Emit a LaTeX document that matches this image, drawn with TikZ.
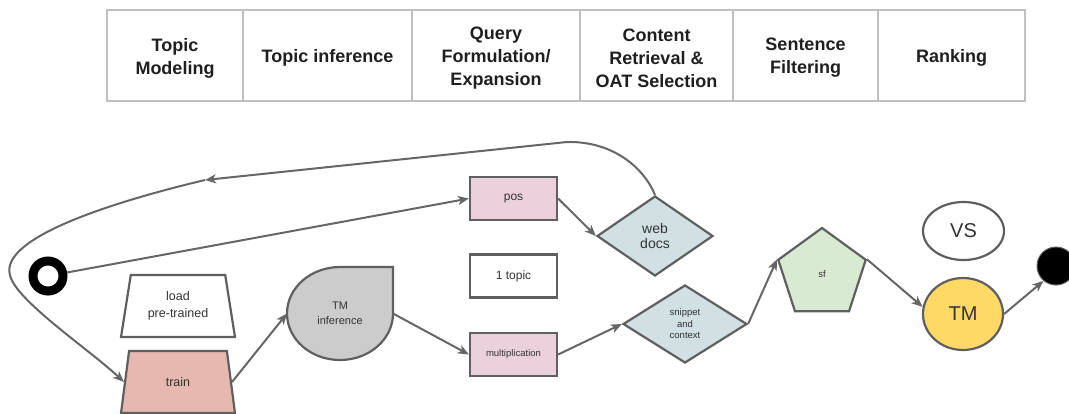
\documentclass[tikz,border=0pt]{standalone}
\usepackage{fontspec}
\setmainfont{Liberation Sans}
\usetikzlibrary{shapes.geometric,arrows.meta,backgrounds}
\definecolor{tablegray}{HTML}{BFBFBF}
\definecolor{linegray}{HTML}{666666}
\definecolor{edgegray}{HTML}{5F5F5F}
\definecolor{textdark}{HTML}{333333}
\definecolor{pinkfill}{HTML}{EAD1DC}
\definecolor{trainfill}{HTML}{E6B8AF}
\definecolor{tmifill}{HTML}{CCCCCC}
\definecolor{bluefill}{HTML}{D0E0E3}
\definecolor{greenfill}{HTML}{D9EAD3}
\definecolor{tmfill}{HTML}{FFD966}
\begin{document}
\begin{tikzpicture}[x=1pt,y=-1pt,
  hdr/.style={draw=tablegray, line width=1.3pt, minimum height=91pt, inner sep=0pt},
  hdrtext/.style={inner sep=0pt, align=center, font=\fontsize{18}{23}\selectfont\bfseries, text=black!88},
  shp/.style={draw=edgegray, line width=2.2pt, inner sep=0pt, align=center, text=textdark},
  box/.style={shp, rectangle, minimum width=87pt, minimum height=43pt, font=\fontsize{12}{14}\selectfont},
  trap/.style={shp, trapezium, trapezium left angle=77.7, trapezium right angle=77.7,
    trapezium stretches=true, minimum width=114pt, minimum height=62pt, font=\fontsize{12.5}{17}\selectfont},
  dia/.style={shp, diamond},
  conn/.style={draw=linegray, line width=2pt, -{Stealth[length=11pt,width=9pt,inset=3pt]}},
]
\useasboundingbox (0,0) rectangle (1069,413);

% header table
\node[hdr, minimum width=136pt] (c1) at (175,55.5) {};
\node[hdr, minimum width=169pt] (c2) at (327.5,55.5) {};
\node[hdr, minimum width=168pt] (c3) at (496,55.5) {};
\node[hdr, minimum width=153pt] (c4) at (656.5,55.5) {};
\node[hdr, minimum width=145pt] (c5) at (805.5,55.5) {};
\node[hdr, minimum width=147pt] (c6) at (951.5,55.5) {};
\node[hdrtext] (t1) at ([yshift=-2.5pt]c1.center) {Topic\\Modeling};
\node[hdrtext] (t2) at ([yshift=-2.5pt]c2.center) {Topic inference};
\node[hdrtext] (t3) at ([yshift=-2.5pt]c3.center) {Query\\Formulation/\\Expansion};
\node[hdrtext] (t4) at ([yshift=-2.5pt]c4.center) {Content\\Retrieval \&\\OAT Selection};
\node[hdrtext] (t5) at ([yshift=-2.5pt]c5.center) {Sentence\\Filtering};
\node[hdrtext] (t6) at ([yshift=-2.5pt]c6.center) {Ranking};

% diagram nodes
\node[circle, draw=black, line width=9pt, minimum size=30pt, inner sep=0pt] (start) at (48,276) {};
\node[box, fill=pinkfill] (pos) at (513.5,198.5) {pos};
\node[box, fill=white] (topic) at (513.5,276) {1 topic};
\node[box, fill=pinkfill, font=\fontsize{9.5}{11}\selectfont] (mult) at (513.5,354.5) {multiplication};
\node[trap, fill=white] (load) at (178,306) {load\\pre-trained};
\node[trap, fill=trainfill] (train) at (178,382) {train};
\node[rectangle, minimum width=106pt, minimum height=93pt, inner sep=0pt, outer sep=0pt,
  align=center, text=textdark, font=\fontsize{11}{15}\selectfont] (tmi) at (340,313.5) {TM\\inference};
\begin{scope}[on background layer]
  \path[draw=edgegray, line width=2.2pt, fill=tmifill] (tmi.north) -- (tmi.north east) -- (tmi.east)
    arc[start angle=0, end angle=-270, x radius=53pt, y radius=46.5pt] -- cycle;
\end{scope}
\node[dia, fill=bluefill, minimum width=116pt, minimum height=80pt, font=\fontsize{14}{15}\selectfont] (webdocs) at (655,236) {web\\docs};
\node[dia, fill=bluefill, minimum width=124pt, minimum height=78pt, font=\fontsize{9.5}{11.5}\selectfont] (snippet) at (685,324) {snippet\\and\\context};
\node[shp, regular polygon, regular polygon sides=5, minimum size=92pt, fill=greenfill,
  font=\fontsize{9.5}{11}\selectfont] (sf) at (822,274) {sf};
\node[shp, ellipse, fill=white, minimum width=81pt, minimum height=58pt, font=\fontsize{20}{22}\selectfont] (vs) at (963.5,231) {VS};
\node[shp, ellipse, fill=tmfill, minimum width=80pt, minimum height=72pt, font=\fontsize{20}{22}\selectfont] (tm) at (963,314) {TM};
\node[circle, draw=edgegray, line width=1pt, fill=black, minimum size=38pt, inner sep=0pt] (end) at (1056,266) {};

% connectors
\coordinate (top) at (567,142);
\coordinate (mk) at (205,180);
\coordinate (lft) at (10,275);
\draw[conn] (start) -- (pos.west);
\draw[conn] (pos.east) -- (webdocs.west);
\draw[conn] (train.east) -- (tmi.west);
\draw[conn] (tmi.east) -- (mult.west);
\draw[conn] (mult.east) -- (snippet.west);
\draw[conn] (snippet.east) -- (sf.corner 2);
\draw[conn] (sf.corner 5) -- (tm.170);
\draw[conn] (tm.east) -- (end.230);
\draw[conn] (webdocs.north) .. controls (645,170) and (615,141) .. (top) -- (mk);
\draw[conn] (mk) .. controls (100,205) and (0,240) .. (lft) .. controls (15,300) and (90,350) .. (train.west);
\end{tikzpicture}
\end{document}
